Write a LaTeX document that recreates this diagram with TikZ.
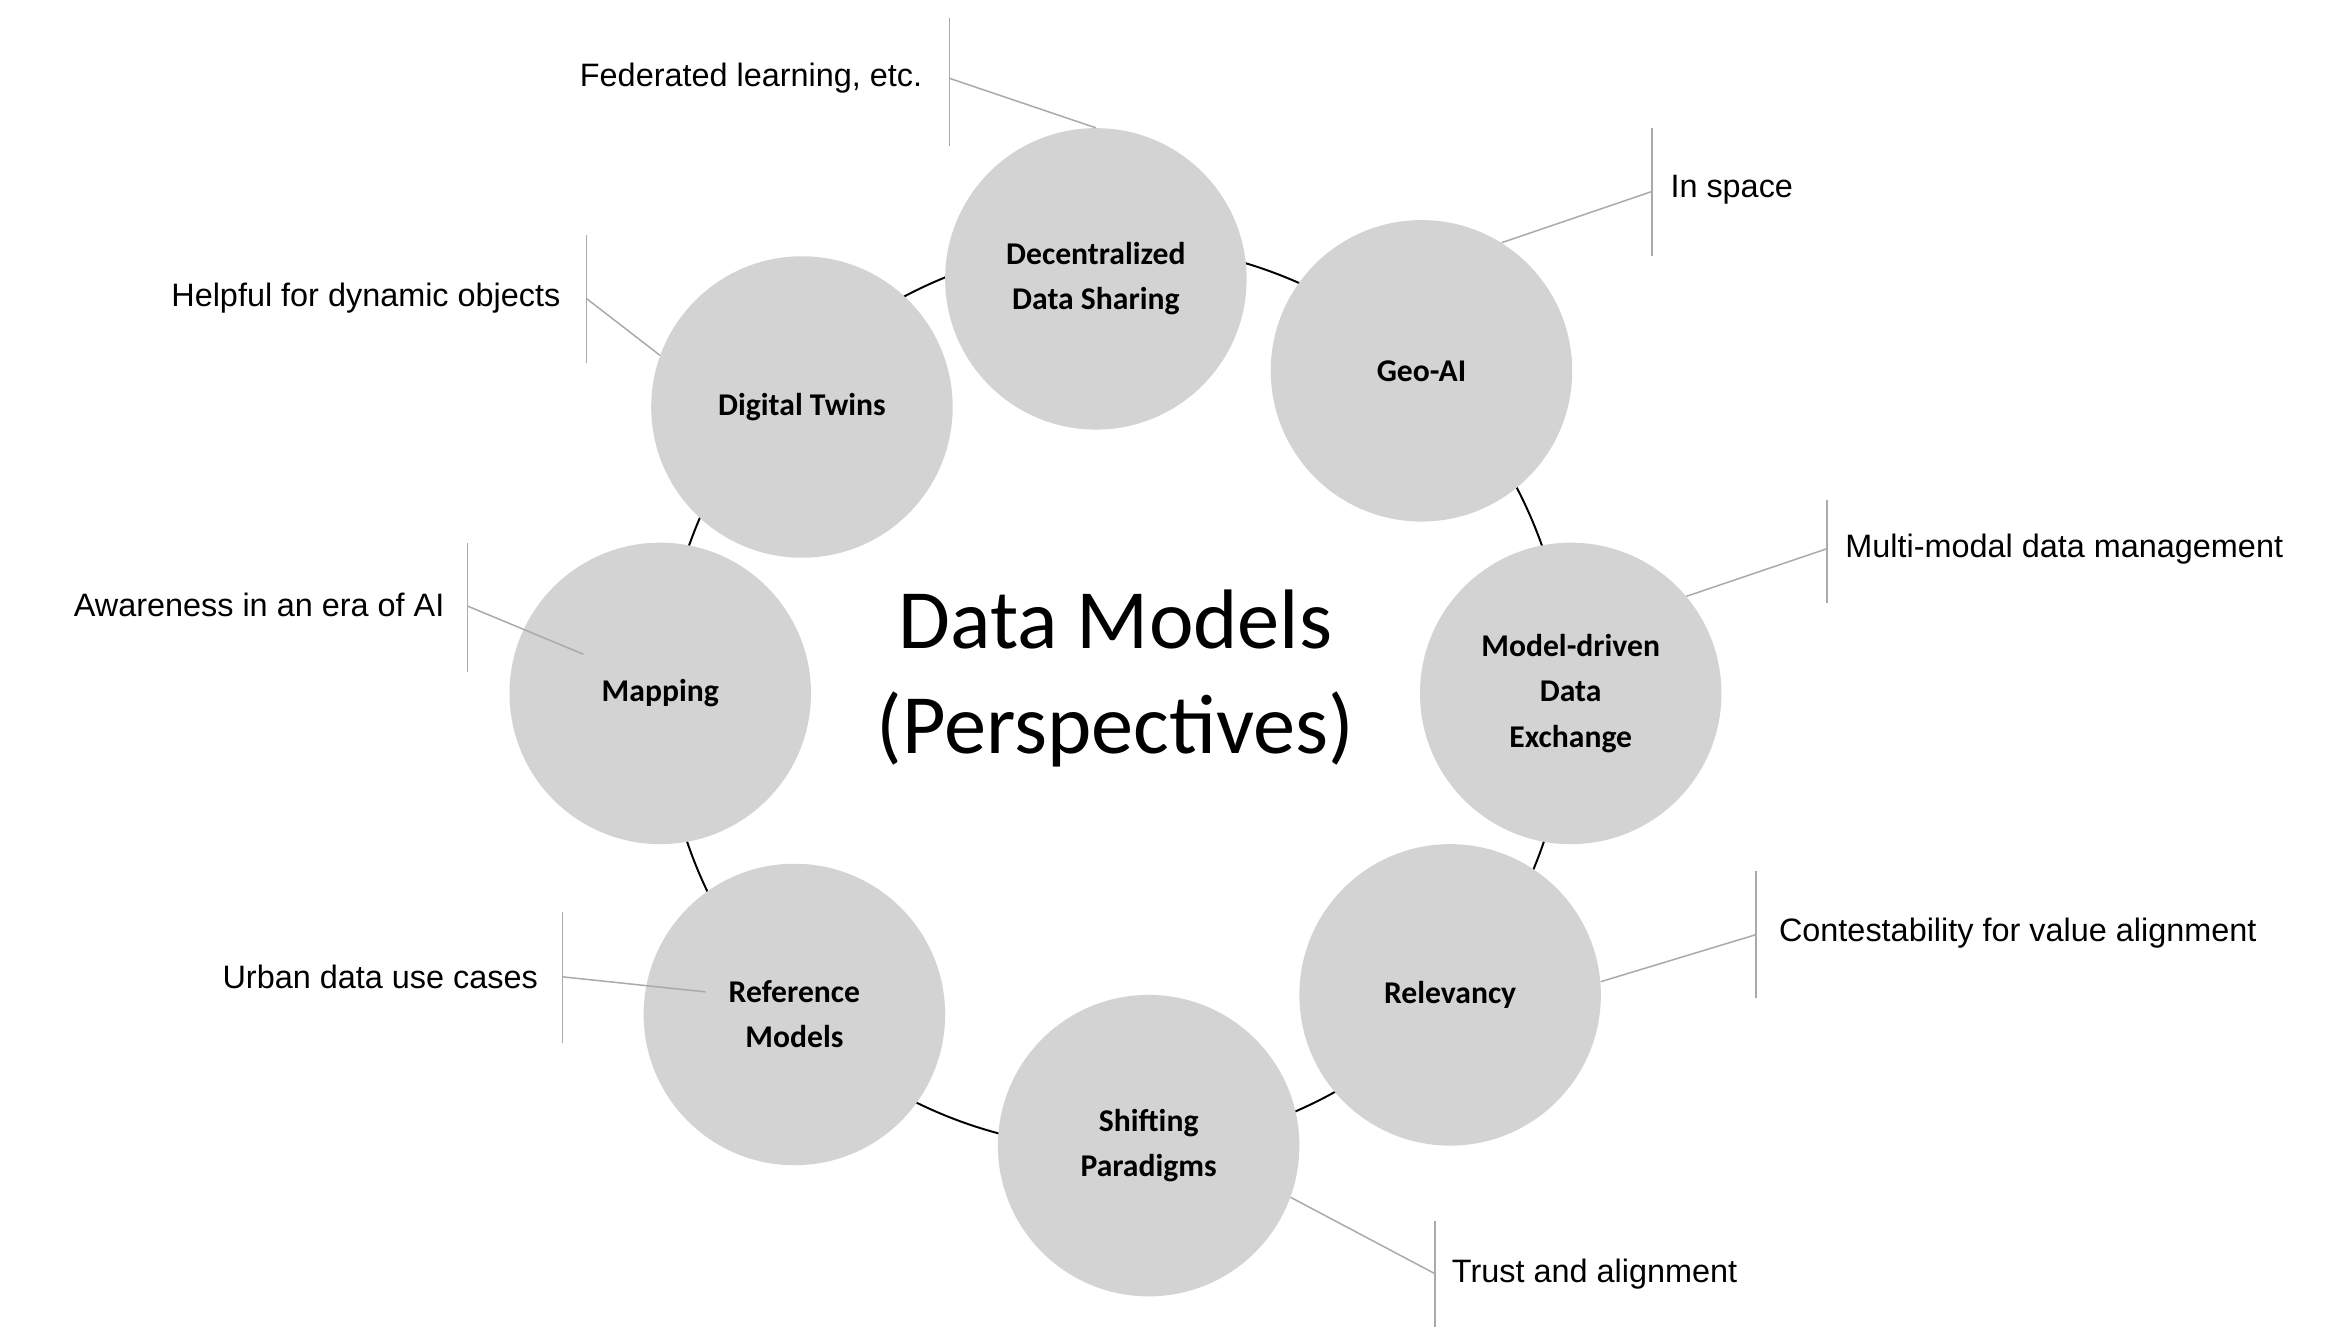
\documentclass[tikz,border=0pt]{standalone}
\usepackage{fontspec}
\setmainfont{Carlito}
\newfontfamily\arialf{Liberation Sans}
\definecolor{cfill}{RGB}{211,211,211}
\definecolor{lgray}{RGB}{170,170,170}
\begin{document}
\begin{tikzpicture}[x=1pt,y=-1pt,
  bub/.style={circle,fill=cfill,minimum size=200pt,inner sep=0pt,align=center,font=\fontsize{21}{30}\selectfont\bfseries},
  note/.style={font=\arialf\fontsize{21.5}{26}\selectfont,inner sep=0pt},
  lead/.style={draw=lgray,line width=1pt}]
\useasboundingbox (0,0) rectangle (1555,886);
\node[circle,draw=black,line width=1.3pt,minimum size=600pt,inner sep=0pt] (ring) at (740,462) {};
\node[bub] (dec) at (727,185) {Decentralized\\Data Sharing};
\node[bub] (geo) at (943,246) {Geo-AI};
\node[bub] (mod) at (1042,460) {Model-driven\\Data\\Exchange};
\node[bub] (rel) at (962,660) {Relevancy};
\node[bub] (shi) at (762,760) {Shifting\\Paradigms};
\node[bub] (ref) at (527,673) {Reference\\Models};
\node[bub] (map) at (438,460) {Mapping};
\node[bub] (dig) at (532,270) {Digital Twins};
\node[align=center,font=\fontsize{56}{70}\selectfont] (ctr) at (740,450) {Data Models\\(Perspectives)};
% callouts
\coordinate (b1t) at (630,12); \coordinate (b1b) at (630,97); \coordinate (b1) at (630,52);
\draw[lead] (b1t) -- (b1b); \draw[lead] (b1) -- (dec.90);
\node[note,anchor=east] (t1) at (612,52) {Federated learning, etc.};
\coordinate (b2t) at (1096,85); \coordinate (b2b) at (1096,170); \coordinate (b2) at (1096,127);
\draw[lead] (b2t) -- (b2b); \draw[lead] (b2) -- (geo.58);
\node[note,anchor=west] (t2) at (1108,126) {In space};
\coordinate (b3t) at (1212,332); \coordinate (b3b) at (1212,400); \coordinate (b3) at (1212,364);
\draw[lead] (b3t) -- (b3b); \draw[lead] (b3) -- (mod.40);
\node[note,anchor=west] (t3) at (1224,364) {Multi-modal data management};
\coordinate (b4t) at (1165,578); \coordinate (b4b) at (1165,662); \coordinate (b4) at (1165,620);
\draw[lead] (b4t) -- (b4b); \draw[lead] (b4) -- (rel.5);
\node[note,anchor=west] (t4) at (1180,619) {Contestability for value alignment};
\coordinate (b5t) at (952,810); \coordinate (b5b) at (952,880); \coordinate (b5) at (952,845);
\draw[lead] (b5t) -- (b5b); \draw[lead] (b5) -- (shi.-20);
\node[note,anchor=west] (t5) at (963,845) {Trust and alignment};
\coordinate (b6t) at (373,605); \coordinate (b6b) at (373,692); \coordinate (b6) at (373,648);
\draw[lead] (b6t) -- (b6b); \draw[lead] (b6) -- (468,658);
\node[note,anchor=east] (t6) at (357,648) {Urban data use cases};
\coordinate (b7t) at (310,360); \coordinate (b7b) at (310,446); \coordinate (b7) at (310,402);
\draw[lead] (b7t) -- (b7b); \draw[lead] (b7) -- (387,434);
\node[note,anchor=east] (t7) at (295,401) {Awareness in an era of AI};
\coordinate (b8t) at (389,156); \coordinate (b8b) at (389,241); \coordinate (b8) at (389,198);
\draw[lead] (b8t) -- (b8b); \draw[lead] (b8) -- (dig.160);
\node[note,anchor=east] (t8) at (372,198) {Helpful for dynamic objects};
\end{tikzpicture}
\end{document}
